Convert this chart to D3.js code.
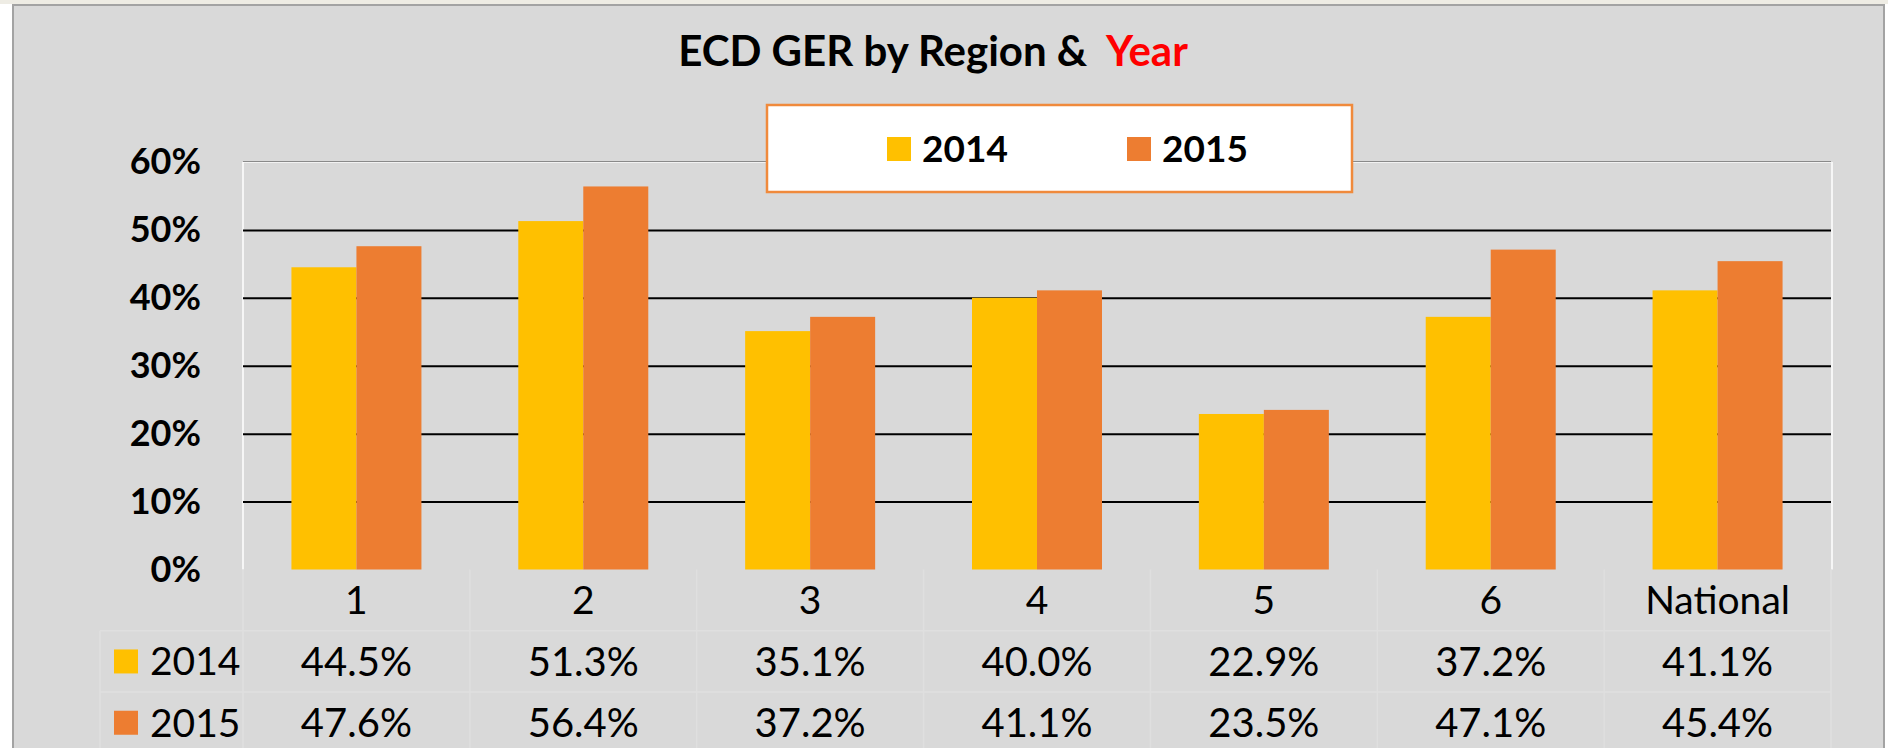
<!DOCTYPE html>
<html>
<head>
<meta charset="utf-8">
<script src="https://cdn.jsdelivr.net/npm/d3@7"></script>
<style>
  body { margin: 0; background: #ffffff; }
  svg { display: block; }
  text { font-family: Lato, "Open Sans", sans-serif; }
</style>
</head>
<body>
<div id="chart"></div>
<script>
// chart data
var regions = ["1", "2", "3", "4", "5", "6", "National"];
var years = ["2014", "2015"];
var values2014 = [0.445, 0.513, 0.351, 0.400, 0.229, 0.372, 0.411];
var values2015 = [0.476, 0.564, 0.372, 0.411, 0.235, 0.471, 0.454];
var yTicks = [0, 0.1, 0.2, 0.3, 0.4, 0.5, 0.6];
var seriesColors = ["#FFC000", "#ED7D31"];

var W = 1888, H = 748;
var plot = { left: 243, right: 1831, top: 162, bottom: 569.5 };
var rowH = 61.3;

var svg = d3.select("#chart").append("svg")
    .attr("width", W)
    .attr("height", H);

// page strip + chart frame
svg.append("rect").attr("x", 0).attr("y", 0).attr("width", W).attr("height", 4).attr("fill", "#eeece4");
svg.append("rect")
    .attr("x", 13).attr("y", 5).attr("width", 1871).attr("height", 770)
    .attr("fill", "#d9d9d9").attr("stroke", "#a3a3a3").attr("stroke-width", 2);

var x = d3.scaleBand().domain(regions).range([plot.left, plot.right]).padding(0);
var groupW = 130;
var x1 = d3.scaleBand().domain(years).range([0, groupW]).padding(0);
var y = d3.scaleLinear().domain([0, 0.6]).range([plot.bottom, plot.top]);

// plot area borders
svg.append("line").attr("x1", plot.left).attr("x2", plot.right).attr("y1", plot.top - 0.5).attr("y2", plot.top - 0.5)
    .attr("stroke", "#8a8a8a").attr("stroke-width", 1);
svg.append("line").attr("x1", plot.left).attr("x2", plot.right).attr("y1", plot.top + 0.5).attr("y2", plot.top + 0.5)
    .attr("stroke", "#f2f2f2").attr("stroke-width", 1);
svg.append("line").attr("x1", plot.left).attr("x2", plot.left).attr("y1", plot.top).attr("y2", plot.bottom)
    .attr("stroke", "#ffffff").attr("stroke-width", 1.5);
svg.append("line").attr("x1", plot.right + 1).attr("x2", plot.right + 1).attr("y1", plot.top).attr("y2", plot.bottom)
    .attr("stroke", "#ffffff").attr("stroke-width", 1.5);

// gridlines
var grid = svg.append("g")
    .attr("transform", "translate(" + plot.left + ",0)")
    .call(d3.axisLeft(y).tickValues(yTicks.filter(function (d) { return d > 0 && d < 0.6; }))
        .tickSize(-(plot.right - plot.left)).tickFormat(""));
grid.select(".domain").remove();
grid.selectAll("line").attr("stroke", "#000000").attr("stroke-width", 2);

// y axis labels
var yAxis = svg.append("g")
    .attr("transform", "translate(201,0)")
    .call(d3.axisLeft(y).tickValues(yTicks).tickSize(0).tickPadding(0).tickFormat(d3.format(".0%")));
yAxis.select(".domain").remove();
yAxis.selectAll("text")
    .attr("font-family", "Lato, sans-serif")
    .attr("font-weight", "bold")
    .attr("font-size", 36)
    .attr("fill", "#000000");

// bars
var barData = regions.map(function (r, i) {
    return { region: r, vals: [{ year: years[0], v: values2014[i] }, { year: years[1], v: values2015[i] }] };
});
var groups = svg.selectAll(".grp").data(barData).enter().append("g")
    .attr("class", "grp")
    .attr("transform", function (d) { return "translate(" + (x(d.region) + (x.bandwidth() - groupW) / 2) + ",0)"; });
groups.selectAll("rect").data(function (d) { return d.vals; }).enter().append("rect")
    .attr("x", function (d) { return x1(d.year); })
    .attr("y", function (d) { return y(d.v); })
    .attr("width", x1.bandwidth())
    .attr("height", function (d) { return y(0) - y(d.v); })
    .attr("fill", function (d, i) { return seriesColors[i]; });

// data table
var tbl = svg.append("g");
var tblTop = plot.bottom;
var cellStroke = "#dfdfdf";
// horizontal cell lines
[1, 2].forEach(function (k) {
    tbl.append("line").attr("x1", 100).attr("x2", plot.right)
        .attr("y1", tblTop + rowH * k).attr("y2", tblTop + rowH * k)
        .attr("stroke", cellStroke).attr("stroke-width", 1.5);
});
// vertical cell lines
regions.forEach(function (r) {
    tbl.append("line").attr("x1", x(r) + x.bandwidth()).attr("x2", x(r) + x.bandwidth())
        .attr("y1", tblTop).attr("y2", H)
        .attr("stroke", cellStroke).attr("stroke-width", 1.5);
});
tbl.append("line").attr("x1", plot.left).attr("x2", plot.left).attr("y1", tblTop).attr("y2", H)
    .attr("stroke", cellStroke).attr("stroke-width", 1.5);
tbl.append("line").attr("x1", 100).attr("x2", 100).attr("y1", tblTop + rowH).attr("y2", H)
    .attr("stroke", cellStroke).attr("stroke-width", 1.5);

// category row
tbl.selectAll(".cat").data(regions).enter().append("text")
    .attr("class", "cat")
    .attr("x", function (d) { return x(d) + x.bandwidth() / 2; })
    .attr("y", tblTop + rowH / 2)
    .attr("dy", "0.36em")
    .attr("text-anchor", "middle")
    .attr("font-size", 39)
    .text(function (d) { return d; });

var fmt = d3.format(".1%");
[values2014, values2015].forEach(function (vals, k) {
    var cy = tblTop + rowH * (k + 1) + rowH / 2;
    tbl.append("rect").attr("x", 114).attr("y", cy - 12).attr("width", 24).attr("height", 24)
        .attr("fill", seriesColors[k]);
    tbl.append("text").attr("x", 150).attr("y", cy).attr("dy", "0.36em")
        .attr("font-size", 39).text(years[k]);
    tbl.selectAll(".v" + k).data(vals).enter().append("text")
        .attr("class", "v" + k)
        .attr("x", function (d, i) { return x(regions[i]) + x.bandwidth() / 2; })
        .attr("y", cy)
        .attr("dy", "0.36em")
        .attr("text-anchor", "middle")
        .attr("font-size", 40)
        .text(function (d) { return fmt(d); });
});

// title
var title = svg.append("text")
    .attr("x", 933).attr("y", 66)
    .attr("text-anchor", "middle")
    .attr("font-weight", "bold")
    .attr("font-size", 42);
title.append("tspan").attr("fill", "#000000").text("ECD GER by Region &\u00a0\u00a0");
title.append("tspan").attr("fill", "#FF0000").text("Year");

// legend
var legend = svg.append("g");
legend.append("rect")
    .attr("x", 767).attr("y", 105).attr("width", 585).attr("height", 87)
    .attr("fill", "#ffffff").attr("stroke", "#F08A3C").attr("stroke-width", 2.5);
var legendX = [887, 1127];
years.forEach(function (yr, i) {
    legend.append("rect").attr("x", legendX[i]).attr("y", 137).attr("width", 24).attr("height", 24)
        .attr("fill", seriesColors[i]);
    legend.append("text").attr("x", legendX[i] + 35).attr("y", 162)
        .attr("font-weight", "bold").attr("font-size", 37).text(yr);
});
</script>
</body>
</html>
